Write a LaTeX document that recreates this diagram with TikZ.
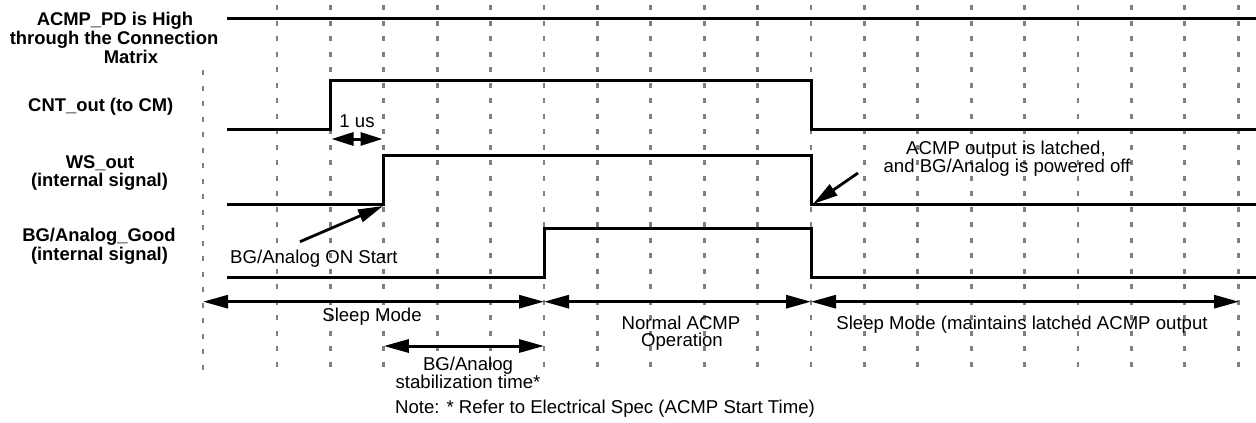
\documentclass[tikz,border=0pt]{standalone}
\usepackage{fontspec}
\setmainfont{Liberation Sans}
\usetikzlibrary{arrows.meta}
\begin{document}
\begin{tikzpicture}[x=1pt,y=-1pt,
  gridline/.style={draw=black!50, line width=2.8pt, dash pattern=on 5pt off 10.5pt},
  sig/.style={line width=3pt, line join=miter, line cap=rect},
  lbl/.style={font=\bfseries\fontsize{18.4}{19}\selectfont, inner sep=0, anchor=base},
  txt/.style={font=\fontsize{18.6}{19}\selectfont, inner sep=0, anchor=base},
  dbl/.style={line width=3pt, {Triangle[length=25pt,width=13pt]}-{Triangle[length=25pt,width=13pt]}},
  dblsmall/.style={line width=3pt, {Triangle[length=22pt,width=13pt]}-{Triangle[length=22pt,width=13pt]}},
  pointer/.style={line width=2.8pt, -{Triangle[length=25pt,width=13pt]}}
  ]
\useasboundingbox (0,0) rectangle (1256,423);
% grid
\foreach \k in {0,...,18} \draw[gridline] ({277+53.4*\k},5) -- ({277+53.4*\k},372);
\draw[gridline] (203,70) -- (203,372);

% signals
\draw[sig] (228,18) -- (1256,18);
\draw[sig] (228,129) -- (330.4,129) -- (330.4,80) -- (811,80) -- (811,129) -- (1256,129);
\draw[sig] (228,204) -- (383.8,204) -- (383.8,155) -- (811,155) -- (811,204) -- (1256,204);
\draw[sig] (228,277) -- (544,277) -- (544,228) -- (811,228) -- (811,277) -- (1256,277);

% left labels
\node[lbl] (l1a) at (115,25) {ACMP\_PD is High};
\node[lbl] (l1b) at (114,44) {through the Connection};
\node[lbl] (l1c) at (131,63) {Matrix};
\node[lbl] (l2) at (100.8,111.7) {CNT\_out (to CM)};
\node[lbl] (l3a) at (100,168.3) {WS\_out};
\node[lbl] (l3b) at (99.5,186.7) {(internal signal)};
\node[lbl] (l4a) at (99,241.7) {BG/Analog\_Good};
\node[lbl] (l4b) at (99.5,260) {(internal signal)};

% 1 us
\node[txt] (us) at (357,127) {1 us};
\coordinate (usL) at (331.5,139);
\coordinate (usR) at (382.5,139);
\draw[dblsmall] (usL) -- (usR);

% BG/Analog ON Start
\node[txt, anchor=base west] (onstart) at (230,263.3) {BG/Analog ON Start};
\coordinate (onA) at (300,241.7);
\coordinate (onB) at (383,206);
\draw[pointer] (onA) -- (onB);

% latched
\node[txt] (lat1) at (1006,154) {ACMP output is latched,};
\node[txt] (lat2) at (1007,172.3) {and BG/Analog is powered off};
\coordinate (latA) at (858,173);
\coordinate (latB) at (813,204);
\draw[pointer] (latA) -- (latB);

% bottom arrows
\coordinate (b0) at (203,301.7);
\coordinate (b1) at (544,301.7);
\coordinate (b2) at (811,301.7);
\coordinate (b3) at (1239,301.7);
\draw[dbl] (b0) -- (b1);
\draw[dbl] (b1) -- (b2);
\draw[dbl] (b2) -- (b3);
\coordinate (s0) at (383.8,346);
\coordinate (s1) at (544,346);
\draw[dbl] (s0) -- (s1);

\node[txt] (sleep1) at (372,321.7) {Sleep Mode};
\node[txt] (norm1) at (681,329.3) {Normal ACMP};
\node[txt] (norm2) at (682,346.7) {Operation};
\node[txt] (sleep2) at (1022,329.3) {Sleep Mode (maintains latched ACMP output};
\node[txt] (stab1) at (468,370) {BG/Analog};
\node[txt] (stab2) at (468,388.3) {stabilization time*};
\node[txt, anchor=base west] (note) at (395,413.3) {Note: * Refer to Electrical Spec (ACMP Start Time)};
\end{tikzpicture}
\end{document}
